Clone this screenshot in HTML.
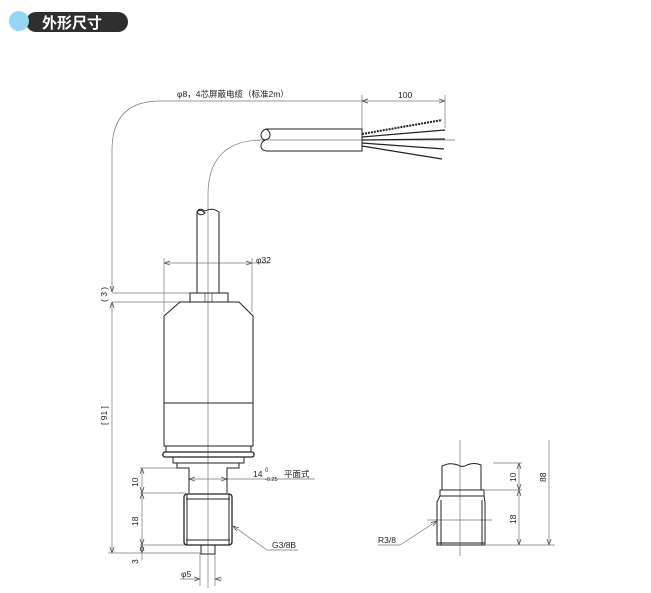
<!DOCTYPE html>
<html><head><meta charset="utf-8"><style>
html,body{margin:0;padding:0;background:#fff;}
svg{display:block;}
text{font-family:"Liberation Sans","Noto Sans CJK SC",sans-serif;fill:#222;}
</style></head><body>
<svg width="651" height="593" viewBox="0 0 651 593" xmlns="http://www.w3.org/2000/svg">
<defs>
<marker id="a" markerWidth="6" markerHeight="6" refX="6" refY="3" orient="auto" markerUnits="userSpaceOnUse"><path d="M0,1 L6,3 L0,5" fill="none" stroke="#555" stroke-width="0.8"/></marker>
<marker id="b" markerWidth="6" markerHeight="6" refX="0" refY="3" orient="auto" markerUnits="userSpaceOnUse"><path d="M6,1 L0,3 L6,5" fill="none" stroke="#555" stroke-width="0.8"/></marker>
</defs>
<!-- header -->
<rect x="26" y="12" width="102" height="20" rx="10" fill="#2f2f2f"/>
<circle cx="19" cy="21" r="10" fill="#95d6f2"/>
<text x="42" y="28" font-size="15" font-weight="bold" style="fill:#fff">外形尺寸</text>

<g fill="none" stroke="#777" stroke-width="0.7">
<path d="M362,101 L160,101 Q112,101 112,150 L112,292" marker-start="url(#a)" marker-end="url(#a)"/>
<path d="M362,101 L445,101" marker-start="url(#b)" marker-end="url(#a)"/>
<line x1="362" y1="95" x2="362" y2="130"/>
<line x1="445" y1="95" x2="445" y2="128"/>
<path d="M455,140 L263,140 Q208,140 208,195 L208,588"/>
<line x1="460" y1="440" x2="460" y2="556"/>
<line x1="164" y1="263" x2="252" y2="263" marker-start="url(#b)" marker-end="url(#a)"/>
<line x1="252" y1="263" x2="270" y2="263"/>
<line x1="164" y1="258" x2="164" y2="312"/>
<line x1="252" y1="258" x2="252" y2="312"/>
<line x1="112" y1="293" x2="190" y2="293"/>
<line x1="112" y1="302" x2="180" y2="302"/>
<line x1="112" y1="302" x2="112" y2="553" marker-start="url(#b)" marker-end="url(#a)"/>
<line x1="108" y1="553" x2="200" y2="553"/>
<line x1="140" y1="468" x2="177" y2="468"/>
<line x1="140" y1="493" x2="186" y2="493"/>
<line x1="140" y1="545" x2="186" y2="545"/>
<line x1="142" y1="468" x2="142" y2="493" marker-start="url(#b)" marker-end="url(#a)"/>
<line x1="142" y1="493" x2="142" y2="545" marker-start="url(#b)" marker-end="url(#a)"/>
<line x1="142" y1="545" x2="142" y2="553" marker-start="url(#b)" marker-end="url(#a)"/>
<line x1="142" y1="553" x2="142" y2="560"/>
<line x1="189" y1="479" x2="227" y2="479" marker-start="url(#b)" marker-end="url(#a)"/>
<line x1="227" y1="479" x2="315" y2="479"/>
<path d="M267,550 L298,550"/>
<line x1="267" y1="550" x2="233" y2="526" marker-end="url(#a)"/>
<line x1="200" y1="553" x2="200" y2="586"/>
<line x1="215" y1="553" x2="215" y2="586"/>
<line x1="180" y1="579" x2="200" y2="579" marker-end="url(#a)"/>
<line x1="222" y1="579" x2="215" y2="579" marker-end="url(#a)"/>
<line x1="493" y1="463" x2="522" y2="463"/>
<line x1="485" y1="490" x2="522" y2="490"/>
<line x1="486" y1="545" x2="555" y2="545"/>
<line x1="519" y1="463" x2="519" y2="490" marker-start="url(#b)" marker-end="url(#a)"/>
<line x1="519" y1="490" x2="519" y2="545" marker-start="url(#b)" marker-end="url(#a)"/>
<line x1="549" y1="440" x2="549" y2="545" marker-end="url(#a)"/>
<line x1="427" y1="520" x2="492" y2="520"/>
<path d="M378,545 L400,545"/>
<line x1="400" y1="545" x2="437" y2="521" marker-end="url(#a)"/>
</g>

<g fill="none" stroke="#222" stroke-width="1">
<!-- horizontal cable -->
<path d="M266,129 L362,129 L362,151 L266,151"/>
<path d="M266,129 Q261,131 261,135 Q261,139 265,140 Q261,142 261,146 Q261,150 266,151"/>
<path d="M266,129 Q270,131 270,135 Q270,139 265,140"/>
<!-- wires -->
<g stroke-width="1.2">
<line x1="362" y1="134" x2="442" y2="120" stroke-dasharray="2 1" stroke-width="2"/>
<line x1="362" y1="137" x2="445" y2="130"/>
<line x1="362" y1="140" x2="445" y2="139"/>
<line x1="362" y1="143" x2="444" y2="149"/>
<line x1="362" y1="146" x2="442" y2="159"/>
</g>
<!-- vertical cable -->
<path d="M197,293 L197,212 Q199,207 205,211 Q212,207 219,212 L219,293"/>
<path d="M197,212 Q200,217 205,213 Q200,208 197,212"/>
<rect x="190" y="293" width="38" height="9"/>
<rect x="205" y="293" width="7" height="9" stroke-width="0.6"/>
<path d="M180,302 L239,302 L253,316 L253,446 L164,446 L164,316 Z"/>
<line x1="164" y1="403" x2="253" y2="403"/>
<rect x="166" y="446" width="85" height="6"/>
<rect x="163" y="452" width="91" height="5" rx="2" stroke-width="1.3"/>
<rect x="173" y="457" width="71" height="6"/>
<path d="M177,463 L177,468 L189,468 L189,493 M239,463 L239,468 L227,468 L227,493"/>
<rect x="184" y="494" width="48" height="51" rx="3" stroke-width="1.3"/>
<line x1="187" y1="494" x2="187" y2="545"/>
<line x1="229" y1="494" x2="229" y2="545"/>
<line x1="186" y1="499" x2="230" y2="499"/>
<line x1="186" y1="540" x2="230" y2="540"/>
<rect x="201" y="545" width="14" height="9"/>
<path d="M442,490 L442,466 Q450,462 458,465 Q462,468 467,465 Q474,462 481,465 L481,490"/>
<rect x="440" y="490" width="44" height="6"/>
<path d="M440,496 L437,502 L437,545 L485,545 L485,502 L484,496"/>
<line x1="441" y1="500" x2="441" y2="545"/>
<line x1="482" y1="500" x2="482" y2="545"/>
<line x1="437" y1="543" x2="485" y2="543"/>
</g>

<g font-size="8.5">
<text x="177" y="97">φ8，4芯屏蔽电缆（标准2m）</text>
<text x="398" y="98">100</text>
<text x="256" y="263">φ32</text>
<text x="253" y="477">14</text>
<text x="265" y="472" font-size="6">0</text>
<text x="265" y="481" font-size="5.5">-0.25</text>
<text x="284" y="477">平面式</text>
<text x="272" y="548">G3/8B</text>
<text x="181" y="577">φ5</text>
<text x="378" y="543">R3/8</text>
<text transform="translate(107,302) rotate(-90)">( 3 )</text>
<text transform="translate(107,425) rotate(-90)">[ 91 ]</text>
<text transform="translate(138,487) rotate(-90)">10</text>
<text transform="translate(138,526) rotate(-90)">18</text>
<text transform="translate(138,564) rotate(-90)">3</text>
<text transform="translate(516,482) rotate(-90)">10</text>
<text transform="translate(516,524) rotate(-90)">18</text>
<text transform="translate(546,482) rotate(-90)">88</text>
</g>
</svg>
</body></html>
